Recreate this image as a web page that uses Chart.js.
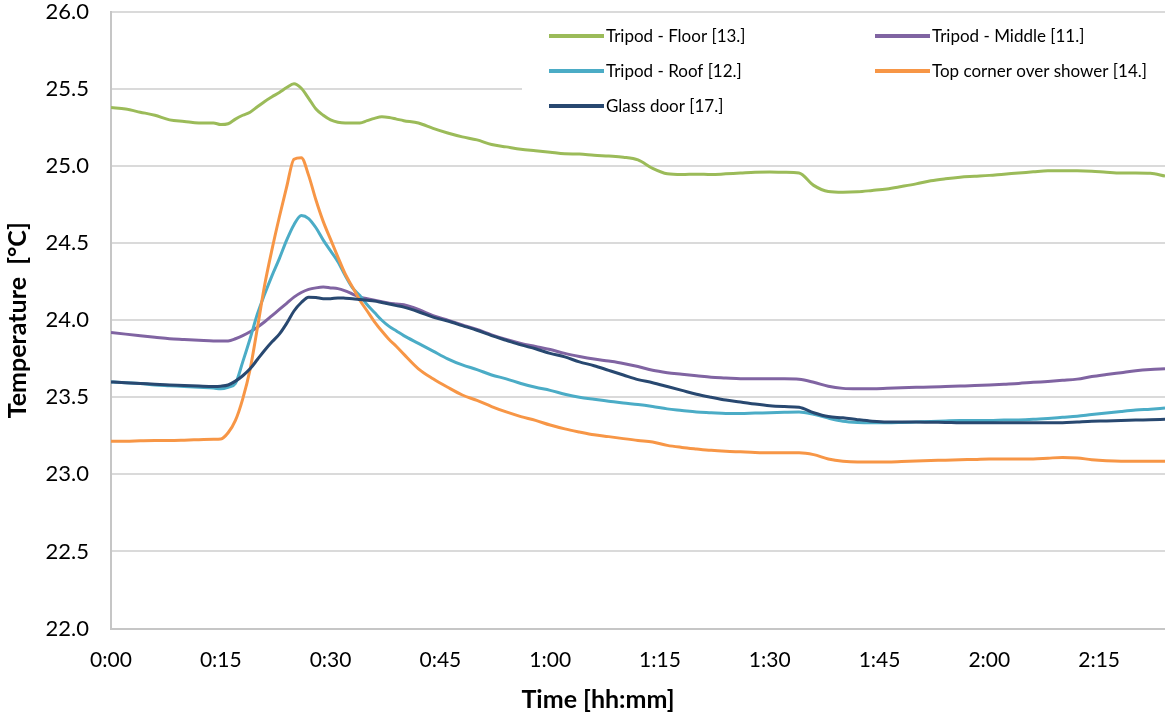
<!DOCTYPE html>
<html lang="en">
<head>
<meta charset="UTF-8">
<title>Bathroom temperatures</title>
<script src="https://cdn.jsdelivr.net/npm/chart.js"></script>
<style>
  body { margin: 0; background: #fff; }
  #chart { display: block; }
</style>
</head>
<body>
<canvas id="chart" width="1165" height="713"></canvas>
<script>
// elapsed time in minutes
const minutes = [0, 2, 4, 6, 8, 10, 12, 14,
  15, 16, 17, 18, 19, 20, 21, 22, 23, 24, 25, 26, 27, 28, 29, 30, 31, 32, 33, 34, 35, 36, 37, 38, 39, 40,
  42, 44, 46, 48, 50, 52, 54, 56, 58, 60, 62, 64, 66, 68, 70, 72, 74, 76, 78, 80, 82, 84, 86, 88, 90,
  92, 94, 96, 98, 100, 102, 104, 106, 108, 110, 112, 114, 116, 118, 120, 122, 124, 126, 128, 130, 132,
  134, 136, 138, 140, 142, 144];

const floorTemp = [25.38, 25.37, 25.35, 25.33, 25.30, 25.29, 25.28, 25.28,
  25.27, 25.275, 25.305, 25.33, 25.35, 25.385, 25.42, 25.45, 25.478, 25.51, 25.535, 25.505, 25.44, 25.37,
  25.33, 25.30, 25.285, 25.28, 25.28, 25.28, 25.295, 25.31, 25.32, 25.315, 25.305, 25.295,
  25.28, 25.245, 25.215, 25.19, 25.17, 25.14, 25.125, 25.11, 25.10, 25.09, 25.08, 25.078, 25.07, 25.065,
  25.058, 25.04, 24.985, 24.95, 24.945, 24.948, 24.945, 24.95, 24.955, 24.96, 24.962, 24.96, 24.955,
  24.875, 24.835, 24.83, 24.833, 24.842, 24.852, 24.868, 24.885, 24.905, 24.918, 24.928, 24.934, 24.94,
  24.948, 24.955, 24.963, 24.97, 24.97, 24.97, 24.967, 24.96, 24.955, 24.955, 24.953, 24.935];

const middleTemp = [23.92, 23.91, 23.90, 23.89, 23.88, 23.875, 23.87, 23.865,
  23.865, 23.866, 23.88, 23.90, 23.925, 23.955, 23.99, 24.03, 24.07, 24.11, 24.15, 24.18, 24.20, 24.21,
  24.215, 24.21, 24.205, 24.19, 24.17, 24.15, 24.14, 24.13, 24.12, 24.11, 24.105, 24.10,
  24.07, 24.03, 24.00, 23.97, 23.94, 23.905, 23.875, 23.85, 23.83, 23.81, 23.785, 23.765, 23.748, 23.735,
  23.72, 23.70, 23.675, 23.66, 23.65, 23.64, 23.63, 23.625, 23.62, 23.62, 23.62, 23.62, 23.617,
  23.598, 23.572, 23.558, 23.555, 23.555, 23.558, 23.562, 23.565, 23.567, 23.57, 23.573, 23.576, 23.58,
  23.585, 23.59, 23.597, 23.603, 23.61, 23.618, 23.635, 23.648, 23.66, 23.672, 23.68, 23.685];

const roofTemp = [23.60, 23.595, 23.59, 23.58, 23.575, 23.57, 23.565, 23.56,
  23.555, 23.565, 23.59, 23.73, 23.88, 24.04, 24.17, 24.29, 24.40, 24.52, 24.62, 24.68, 24.66, 24.60,
  24.52, 24.45, 24.38, 24.29, 24.21, 24.16, 24.10, 24.05, 24.00, 23.96, 23.93, 23.90,
  23.85, 23.80, 23.75, 23.71, 23.68, 23.645, 23.62, 23.59, 23.565, 23.545, 23.52, 23.50, 23.487, 23.475,
  23.463, 23.453, 23.44, 23.425, 23.415, 23.405, 23.40, 23.395, 23.395, 23.398, 23.40, 23.403, 23.405,
  23.39, 23.365, 23.345, 23.337, 23.335, 23.335, 23.337, 23.34, 23.343, 23.347, 23.35, 23.35, 23.35,
  23.352, 23.353, 23.357, 23.363, 23.37, 23.377, 23.388, 23.398, 23.408, 23.417, 23.423, 23.43];

const showerTemp = [23.215, 23.215, 23.218, 23.22, 23.22, 23.222, 23.225, 23.228,
  23.23, 23.27, 23.35, 23.49, 23.68, 23.95, 24.23, 24.46, 24.67, 24.865, 25.045, 25.055, 24.94, 24.78,
  24.64, 24.525, 24.41, 24.30, 24.215, 24.13, 24.06, 23.99, 23.93, 23.875, 23.83, 23.78,
  23.685, 23.62, 23.565, 23.515, 23.48, 23.44, 23.405, 23.375, 23.35, 23.32, 23.295, 23.275, 23.257, 23.245,
  23.232, 23.22, 23.21, 23.188, 23.175, 23.165, 23.156, 23.15, 23.146, 23.142, 23.14, 23.14, 23.14,
  23.128, 23.10, 23.085, 23.08, 23.08, 23.08, 23.083, 23.087, 23.09, 23.092, 23.095, 23.097, 23.10,
  23.10, 23.10, 23.10, 23.105, 23.11, 23.107, 23.095, 23.088, 23.085, 23.085, 23.085, 23.085];

const glassTemp = [23.60, 23.595, 23.59, 23.585, 23.58, 23.577, 23.573, 23.57,
  23.572, 23.58, 23.605, 23.64, 23.685, 23.745, 23.805, 23.86, 23.91, 23.98, 24.06, 24.115, 24.15, 24.148,
  24.14, 24.14, 24.145, 24.143, 24.14, 24.135, 24.13, 24.125, 24.115, 24.105, 24.095, 24.085,
  24.055, 24.02, 23.995, 23.965, 23.935, 23.90, 23.87, 23.84, 23.815, 23.785, 23.762, 23.73, 23.705, 23.675,
  23.645, 23.615, 23.595, 23.57, 23.545, 23.52, 23.50, 23.482, 23.47, 23.456, 23.445, 23.44, 23.435,
  23.40, 23.375, 23.367, 23.355, 23.345, 23.34, 23.34, 23.34, 23.338, 23.337, 23.335, 23.335, 23.335,
  23.335, 23.335, 23.335, 23.335, 23.335, 23.34, 23.345, 23.347, 23.35, 23.352, 23.355, 23.357];

const seriesNames = ['Tripod - Floor [13.]', 'Tripod - Middle [11.]', 'Tripod - Roof [12.]',
  'Top corner over shower [14.]', 'Glass door [17.]'];
const seriesValues = [floorTemp, middleTemp, roofTemp, showerTemp, glassTemp];
const seriesColors = ['#9bbb59', '#8064a2', '#4bacc6', '#f79646', '#284870'];

const xTicks = [0, 15, 30, 45, 60, 75, 90, 105, 120, 135];

Chart.defaults.font.family = 'Lato, "Open Sans", sans-serif';
Chart.defaults.color = '#000';

function hhmm(m) {
  const h = Math.floor(m / 60);
  const mm = m % 60;
  return h + ':' + (mm < 10 ? '0' : '') + mm;
}

// legend boxed in the upper right corner, plus the x axis title
const cornerLegend = {
  id: 'cornerLegend',
  afterDraw(chart) {
    const ctx = chart.ctx;
    const cols = [549, 875];
    const rows = [36, 71, 106];
    ctx.save();
    ctx.fillStyle = '#fff';
    ctx.fillRect(522, 14, chart.width - 522, 108);
    ctx.font = '17px Lato, sans-serif';
    ctx.textBaseline = 'middle';
    ctx.textAlign = 'left';
    chart.data.datasets.forEach((ds, i) => {
      const x = cols[i % 2];
      const y = rows[Math.floor(i / 2)];
      ctx.strokeStyle = ds.borderColor;
      ctx.lineWidth = 4;
      ctx.beginPath();
      ctx.moveTo(x, y);
      ctx.lineTo(x + 55, y);
      ctx.stroke();
      ctx.fillStyle = '#000';
      ctx.fillText(ds.label, x + 57, y + 1);
    });
    ctx.font = 'bold 25px Lato, sans-serif';
    ctx.textAlign = 'center';
    ctx.fillText('Time [hh:mm]', 598, 700);
    ctx.restore();
  }
};

new Chart(document.getElementById('chart'), {
  type: 'line',
  data: {
    datasets: seriesNames.map((name, i) => ({
      label: name,
      data: minutes.map((t, k) => ({ x: t, y: seriesValues[i][k] })),
      borderColor: seriesColors[i],
      backgroundColor: seriesColors[i],
      borderWidth: 3,
      pointRadius: 0,
      cubicInterpolationMode: 'monotone',
      order: seriesNames.length - i
    }))
  },
  options: {
    responsive: false,
    animation: false,
    devicePixelRatio: 1,
    layout: { padding: { top: 12, right: 0, bottom: 0, left: 0 } },
    plugins: {
      legend: { display: false },
      tooltip: { enabled: false }
    },
    scales: {
      x: {
        type: 'linear',
        min: 0,
        max: 144,
        afterBuildTicks: s => { s.ticks = xTicks.map(v => ({ value: v })); },
        afterFit: s => { s.height = 84.5; },
        ticks: {
          font: { size: 21 },
          padding: 19,
          maxRotation: 0,
          callback: v => hhmm(v)
        },
        grid: { display: false, drawTicks: false },
        border: { display: true, color: '#c6c6c6', width: 2 }
      },
      y: {
        min: 22,
        max: 26,
        afterFit: s => {
          s.width = 111;
          s.paddingTop = 0;
          s.paddingBottom = 0;
        },
        ticks: {
          stepSize: 0.5,
          font: { size: 22, lineHeight: 1 },
          padding: 22,
          callback: v => v.toFixed(1)
        },
        grid: { color: '#dadada', lineWidth: 2, drawTicks: false },
        border: { display: true, color: '#c6c6c6', width: 2 },
        title: {
          display: true,
          text: 'Temperature  [°C]',
          font: { size: 25, weight: 'bold' },
          padding: { top: 3, bottom: 0 }
        }
      }
    }
  },
  plugins: [cornerLegend]
});
</script>
</body>
</html>
